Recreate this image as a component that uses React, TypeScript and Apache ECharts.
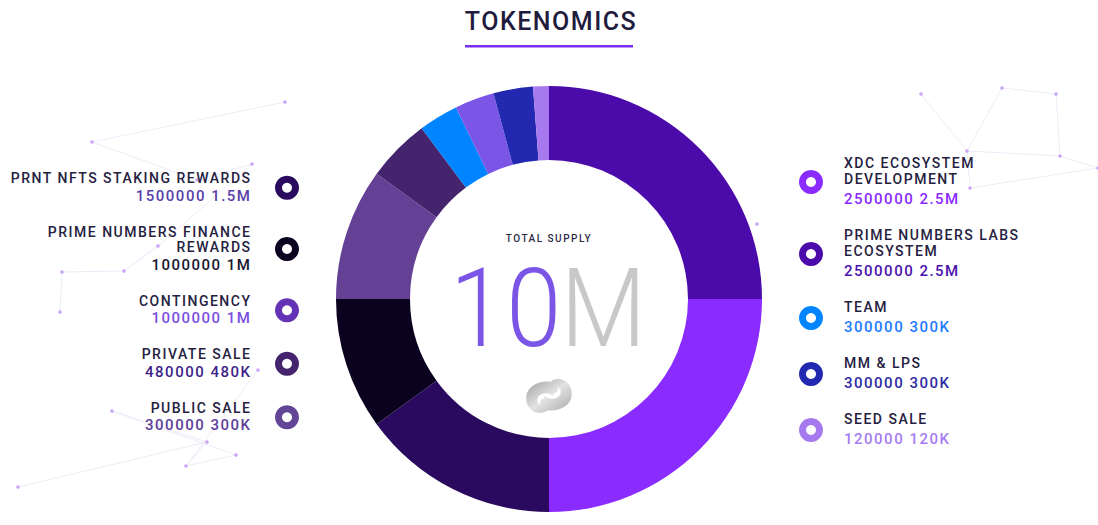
import React, { useEffect, useRef } from "react";
import * as echarts from "echarts";

// ---- data ----
const ringNames = [
  "PRIME NUMBERS LABS ECOSYSTEM",
  "XDC ECOSYSTEM DEVELOPMENT",
  "PRNT NFTS STAKING REWARDS",
  "PRIME NUMBERS FINANCE REWARDS",
  "CONTINGENCY",
  "PRIVATE SALE",
  "TEAM",
  "PUBLIC SALE",
  "MM & LPS",
  "SEED SALE",
];
const ringValues = [2500000, 2500000, 1500000, 1000000, 1000000, 480000, 300000, 300000, 300000, 120000];
const ringColors = ["#4B0BAA", "#8A2BFF", "#2A0A5E", "#0B0220", "#654196", "#45246E", "#0084FF", "#7B55E6", "#2229B0", "#A67AEE"];

const leftLabels = ["PRNT NFTS STAKING REWARDS", "PRIME NUMBERS FINANCE\nREWARDS", "CONTINGENCY", "PRIVATE SALE", "PUBLIC SALE"];
const leftValues = [1500000, 1000000, 1000000, 480000, 300000];
const leftIconColors = ["#2A0A5E", "#0B0220", "#6432B4", "#45246E", "#634596"];
const leftValueColors = ["#5B3FA8", "#1A1530", "#7A4FE0", "#3E1F8A", "#5D3E9A"];

const rightLabels = ["XDC ECOSYSTEM\nDEVELOPMENT", "PRIME NUMBERS LABS\nECOSYSTEM", "TEAM", "MM & LPS", "SEED SALE"];
const rightValues = [2500000, 2500000, 300000, 300000, 120000];
const rightIconColors = ["#8A2BFF", "#4B0BAA", "#0084FF", "#2229B0", "#A67AEE"];
const rightValueColors = ["#8A2BFF", "#4B12B0", "#1E7BFF", "#2E2BA5", "#A67CF0"];

const totalLabel = "TOTAL SUPPLY";
const totalNumber = "10";
const totalUnit = "M";
const titleText = "TOKENOMICS";

const FONT = "Roboto, 'Noto Sans', sans-serif";

function shortFmt(v: number): string {
  if (v >= 1000000) return (v / 1000000).toString() + "M";
  return (v / 1000).toString() + "K";
}

function buildLegend(
  labels: string[],
  values: number[],
  iconColors: string[],
  valueColors: string[],
  side: "left" | "right",
  startY: number,
  lineH: number,
  valGap: number,
  entryGap: number
) {
  const els: any[] = [];
  let y = startY;
  const textX = side === "left" ? 251.5 : 844;
  const iconX = side === "left" ? 287 : 811;
  labels.forEach((lab, i) => {
    const lines = lab.split("\n");
    const top = y;
    lines.forEach((ln, j) => {
      els.push({
        type: "text",
        x: textX,
        y: y + j * lineH,
        style: {
          text: ln,
          font: `500 14px ${FONT}`,
          fill: "#25213F",
          align: side === "left" ? "right" : "left",
          verticalAlign: "middle",
        },
      });
    });
    const vy = y + (lines.length - 1) * lineH + valGap;
    els.push({
      type: "text",
      x: textX,
      y: vy,
      style: {
        text: `${values[i]} ${shortFmt(values[i])}`,
        font: `500 15px ${FONT}`,
        fill: valueColors[i],
        align: side === "left" ? "right" : "left",
        verticalAlign: "middle",
      },
    });
    els.push({
      type: "ring",
      shape: { cx: iconX, cy: (top + vy) / 2 + 1, r: 12, r0: 5 },
      style: { fill: iconColors[i] },
    });
    y = vy + entryGap;
  });
  return els;
}

const decoPts: [number, number][] = [
  [92, 142], [252, 164], [197, 180], [62, 272], [124, 271], [60, 312], [158, 246],
  [258, 370], [112, 411], [186, 466], [236, 455], [207, 442], [18, 487],
  [921, 94], [1002, 88], [1056, 94], [967, 151], [970, 188], [1060, 156], [1098, 168],
  [285, 102], [757, 224],
];
const decoLinks: [number, number][] = [
  [0, 2], [2, 1], [1, 6], [6, 4], [4, 3], [3, 5], [4, 6], [7, 9], [9, 10], [8, 10], [8, 11], [11, 12], [9, 11],
  [13, 16], [14, 16], [14, 15], [15, 18], [18, 19], [16, 17], [16, 18], [17, 19], [20, 0],
];

export default function App() {
  const ref = useRef<HTMLDivElement>(null);
  useEffect(() => {
    if (!ref.current) return;
    const chart = echarts.init(ref.current, undefined, { renderer: "svg" });

    echarts.graphic.registerShape(
      "logoA",
      echarts.graphic.extendPath(
        "M 30 4 C 20 0 6 4 2 14 C -1 24 5 34 15 34 C 21 34 25 30 25 25 C 25 21 21 19 18 20 C 15 21 14 24 16 26 C 12 25 11 20 14 17 C 18 13 25 14 28 17 C 30 11 31 7 30 4 Z M 18 30 C 28 34 42 30 46 20 C 49 10 43 0 33 0 C 27 0 23 4 23 9 C 23 13 27 15 30 14 C 33 13 34 10 32 8 C 36 9 37 14 34 17 C 30 21 23 20 20 17 C 18 23 17 27 18 30 Z",
        {}
      )
    );

    const deco: any[] = [];
    decoLinks.forEach(([a, b]) => {
      deco.push({
        type: "line",
        z: -10,
        shape: { x1: decoPts[a][0], y1: decoPts[a][1], x2: decoPts[b][0], y2: decoPts[b][1] },
        style: { stroke: "#EEEBF8", lineWidth: 1 },
      });
    });
    decoPts.forEach(([x, y]) => {
      deco.push({ type: "circle", z: -9, shape: { cx: x, cy: y, r: 1.8 }, style: { fill: "#C7A6FA" } });
    });

    const option: any = {
      animation: false,
      backgroundColor: "#ffffff",
      title: {
        text: titleText,
        left: 546,
        top: 4,
        textAlign: "center",
        textStyle: { fontFamily: FONT, fontSize: 25, fontWeight: 500, color: "#1F1B3D" },
      },
      series: [
        {
          type: "pie",
          center: [549, 299],
          radius: [139, 213],
          startAngle: 90,
          clockwise: true,
          label: { show: false },
          labelLine: { show: false },
          emphasis: { disabled: true },
          itemStyle: { borderWidth: 0 },
          data: ringNames.map((n, i) => ({ name: n, value: ringValues[i], itemStyle: { color: ringColors[i] } })),
        },
      ],
      graphic: [
        ...deco,
        { type: "rect", shape: { x: 465, y: 45, width: 168, height: 2.5 }, style: { fill: "#7A2FF0" } },
        {
          type: "text",
          x: 549,
          y: 238,
          style: { text: totalLabel, font: `500 10px ${FONT}`, fill: "#2E2A45", align: "center", verticalAlign: "middle" },
        },
        {
          type: "text",
          x: 549,
          y: 309,
          scaleX: 0.9,
          style: {
            text: `{a|${totalNumber}}{b|${totalUnit}}`,
            align: "center",
            verticalAlign: "middle",
            rich: {
              a: { fontFamily: FONT, fontSize: 110, fontWeight: 300, fill: "#7B55E6", lineHeight: 80 },
              b: { fontFamily: FONT, fontSize: 110, fontWeight: 300, fill: "#C8C8C8", lineHeight: 80 },
            },
          },
        },
        {
          type: "logoA",
          x: 525,
          y: 379,
          scaleX: 1,
          scaleY: 1,
          style: {
            fill: new echarts.graphic.LinearGradient(0, 0, 1, 1, [
              { offset: 0, color: "#9C9C9C" },
              { offset: 0.5, color: "#E2E2E2" },
              { offset: 1, color: "#A8A8A8" },
            ]),
          },
        },
        ...buildLegend(leftLabels, leftValues, leftIconColors, leftValueColors, "left", 178, 15.5, 17.5, 36),
        ...buildLegend(rightLabels, rightValues, rightIconColors, rightValueColors, "right", 163, 16, 20, 36),
      ],
    };
    chart.setOption(option);
    return () => chart.dispose();
  }, []);
  return (
    <>
      <style>{`.tk-chart text { letter-spacing: 1.5px; }`}</style>
      <div className="tk-chart" ref={ref} style={{ position: "fixed", left: 0, top: 0, width: 1098, height: 525 }} />
    </>
  );
}
